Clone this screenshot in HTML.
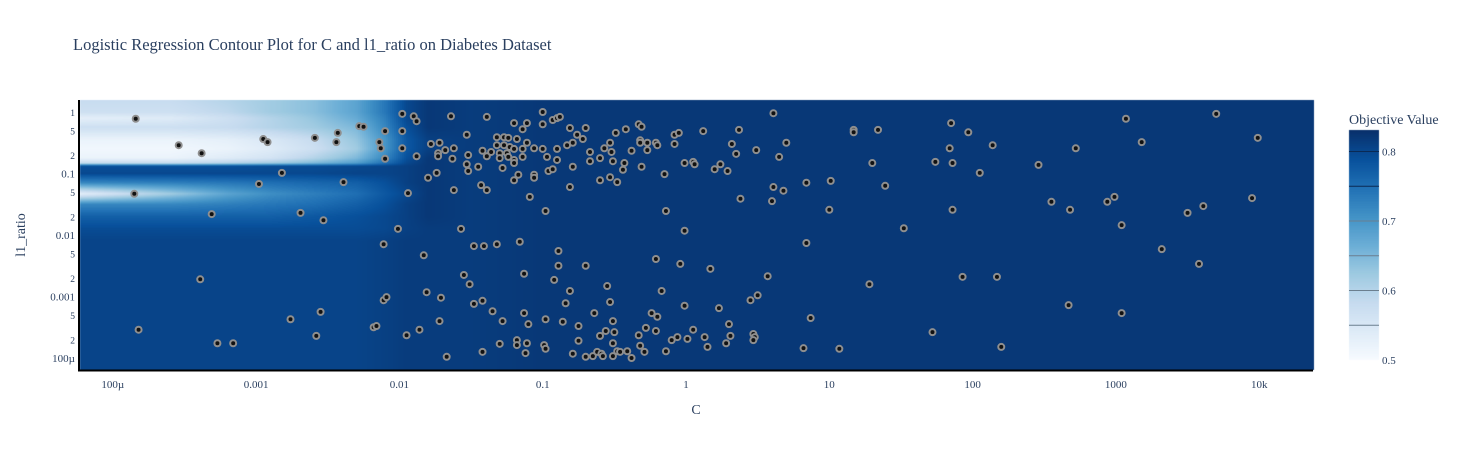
<!DOCTYPE html>
<html><head><meta charset="utf-8"><style>
body{margin:0;background:#fff;width:1459px;height:450px;overflow:hidden;font-family:"Liberation Serif",serif;}
#wrap{position:relative;width:1459px;height:450px;}
canvas{position:absolute;left:0;top:0;}
svg{position:absolute;left:0;top:0;}
</style></head><body>
<div id="wrap">
<canvas id="cv" width="1459" height="450"></canvas>
<svg id="sv" width="1459" height="450" xmlns="http://www.w3.org/2000/svg">
<text x="73" y="50" font-size="16.5" fill="#2a3f5f">Logistic Regression Contour Plot for C and l1_ratio on Diabetes Dataset</text>
<text x="696" y="414" font-size="14" fill="#2a3f5f" text-anchor="middle">C</text>
<text transform="translate(25,235) rotate(-90)" font-size="14" fill="#2a3f5f" text-anchor="middle">l1_ratio</text>
<text x="1349" y="124" font-size="14" fill="#2a3f5f">Objective Value</text>
<g id="xt"></g><g id="yt"></g><g id="cb"></g><g id="pts"></g>
<line x1="79" y1="100" x2="79" y2="371" stroke="#000" stroke-width="2"/>
<line x1="78" y1="370.5" x2="1313" y2="370.5" stroke="#000" stroke-width="2"/>
</svg>
</div>
<script>
// axis ticks (log10 exponents) and labels
const xTickExp=[-4,-3,-2,-1,0,1,2,3,4];
const xTickLabels=["100µ","0.001","0.01","0.1","1","10","100","1000","10k"];
const yTickVals=[1,0.5,0.2,0.1,0.05,0.02,0.01,0.005,0.002,0.001,0.0005,0.0002,0.0001];
const yTickLabels=["1","5","2","0.1","5","2","0.01","5","2","0.001","5","2","100µ"];
const cbTicks=[0.5,0.6,0.7,0.8];
const cbLevels=[0.55,0.6,0.65,0.7,0.75,0.8];
// objective surface grid (log10 C columns, log10 l1_ratio rows)
const gridLogC=[-4.25,-3.6,-3.2,-2.9,-2.6,-2.3,-2.1,-1.95,-1.8,-1.5,-1.0,4.4];
const gridLogL1=[0.2,0.0,-0.1,-0.25,-0.45,-0.6,-0.75,-0.83,-0.88,-1.0,-1.15,-1.33,-1.5,-1.7,-1.9,-2.1,-4.3];
const gridZ=[
[0.58,0.58,0.60,0.62,0.64,0.68,0.74,0.80,0.82,0.815,0.82,0.82],
[0.57,0.57,0.59,0.62,0.64,0.68,0.74,0.80,0.82,0.815,0.82,0.82],
[0.53,0.54,0.57,0.60,0.63,0.67,0.73,0.80,0.82,0.815,0.82,0.82],
[0.57,0.57,0.58,0.60,0.62,0.65,0.72,0.79,0.82,0.815,0.82,0.82],
[0.52,0.52,0.53,0.55,0.58,0.63,0.70,0.78,0.81,0.815,0.82,0.82],
[0.51,0.51,0.52,0.54,0.57,0.62,0.70,0.78,0.81,0.815,0.82,0.82],
[0.52,0.52,0.54,0.56,0.60,0.65,0.72,0.79,0.82,0.815,0.82,0.82],
[0.58,0.58,0.60,0.62,0.65,0.69,0.75,0.80,0.82,0.815,0.82,0.82],
[0.79,0.79,0.79,0.795,0.795,0.80,0.805,0.81,0.82,0.815,0.82,0.82],
[0.80,0.80,0.80,0.80,0.80,0.805,0.805,0.81,0.82,0.815,0.82,0.82],
[0.72,0.73,0.74,0.75,0.76,0.77,0.79,0.81,0.82,0.815,0.82,0.82],
[0.53,0.62,0.68,0.71,0.73,0.75,0.78,0.80,0.82,0.815,0.82,0.82],
[0.72,0.72,0.73,0.74,0.75,0.77,0.79,0.81,0.82,0.815,0.82,0.82],
[0.77,0.77,0.77,0.77,0.78,0.79,0.80,0.81,0.82,0.815,0.82,0.82],
[0.795,0.795,0.795,0.795,0.795,0.795,0.80,0.81,0.815,0.815,0.82,0.82],
[0.805,0.805,0.805,0.805,0.805,0.805,0.81,0.815,0.815,0.815,0.82,0.82],
[0.805,0.805,0.805,0.805,0.805,0.805,0.81,0.815,0.815,0.815,0.82,0.82]];
// trials: [log10 C, log10 l1_ratio]
const trials=[
[-3.84,-0.11],[-3.54,-0.54],[-3.38,-0.67],[-3.85,-1.33],[-2.95,-0.44],[-2.92,-0.49],[-2.59,-0.42],[-2.44,-0.49],[-2.43,-0.34],[-2.28,-0.23],[-2.25,-0.24],[-2.10,-0.31],[-1.98,-0.31],[-2.10,-0.76],[-2.13,-0.59],[-2.14,-0.49],[-1.98,-0.59],[-2.82,-0.99],[-2.98,-1.17],[-2.39,-1.14],[-3.31,-1.66],[-2.69,-1.64],[-2.53,-1.76],[-2.01,-1.90],[-2.11,-2.15],[-3.39,-2.72],[-3.82,-3.54],[-3.27,-3.76],[-3.16,-3.76],[-2.76,-3.37],[-2.55,-3.25],[-2.58,-3.64],[-2.18,-3.50],[-2.16,-3.48],[-2.11,-3.06],[-2.09,-3.01],
[-1.98,-0.03],[-1.90,-0.07],[-1.88,-0.15],[-1.64,-0.07],[-1.39,-0.08],[-1.00,0],[-1.20,-0.18],[-1.11,-0.18],[-1.14,-0.28],[-1.00,-0.20],[-0.93,-0.13],[-0.90,-0.10],[-0.88,-0.08],[-0.81,-0.26],[-0.70,-0.26],[-1.53,-0.37],[-1.78,-0.52],[-1.72,-0.50],[-1.68,-0.62],[-1.73,-0.67],[-1.73,-0.72],[-1.62,-0.59],[-1.88,-0.72],[-1.63,-0.76],[-1.52,-0.70],[-1.53,-0.85],[-1.52,-0.96],[-1.45,-0.89],[-1.80,-1.07],[-1.74,-0.99],[-1.62,-1.27],[-1.94,-1.32],[-1.43,-1.19],[-1.39,-1.27],
[-1.32,-0.41],[-1.27,-0.41],[-1.24,-0.42],[-1.18,-0.44],[-1.32,-0.54],[-1.27,-0.54],[-1.23,-0.57],[-1.42,-0.63],[-1.36,-0.65],[-1.30,-0.67],[-1.25,-0.67],[-1.20,-0.60],[-1.14,-0.60],[-1.39,-0.72],[-1.30,-0.75],[-1.24,-0.73],[-1.20,-0.78],[-1.14,-0.73],[-1.11,-0.50],[-1.06,-0.59],[-1.00,-0.60],[-0.97,-0.73],[-0.90,-0.60],[-0.90,-0.78],[-1.20,-0.83],[-1.28,-0.91],[-1.17,-1.02],[-1.20,-1.11],[-1.06,-1.02],[-1.06,-1.07],[-0.96,-0.96],[-0.93,-0.93],[-0.79,-0.89],[-0.83,-0.54],[-0.79,-0.50],[-0.76,-0.37],[-0.72,-0.44],[-0.67,-0.65],[-0.67,-0.80],[-0.60,-0.75],[-0.57,-0.59],[-0.53,-0.50],[-0.52,-0.65],[-0.49,-0.34],[-0.42,-0.28],[-0.51,-0.80],[-0.43,-0.83],[-0.44,-0.94],[-0.60,-1.11],[-0.53,-1.06],[-0.48,-1.14],[-0.81,-1.22],[-0.38,-0.63],[-0.33,-0.20],[-0.31,-0.24],[-0.32,-0.46],[-0.32,-0.50],[-0.27,-0.50],[-0.27,-0.62],[-0.21,-0.50],[-0.20,-0.54],[-0.31,-0.89],[-0.15,-1.01],[-0.08,-0.52],[-0.08,-0.37],[-0.05,-0.34],[0.12,-0.31],[-0.01,-0.83],[0.05,-0.81],[0.06,-0.85],[0.20,-0.93],[0.24,-0.85],[0.29,-0.96],[0.32,-0.52],[0.35,-0.68],[0.37,-0.29],[0.49,-0.62],[0.61,-0.02],[0.65,-0.73],[0.70,-0.50],[0.61,-1.22],[0.68,-1.28],[0.60,-1.45],[0.38,-1.41],[-0.98,-1.61],[-1.09,-1.38],[-0.14,-1.61],[-0.01,-1.93],[-1.57,-1.90],
[-1.83,-2.33],[-1.48,-2.18],[-1.41,-2.18],[-1.32,-2.15],[-1.16,-2.11],[-0.89,-2.26],[-0.89,-2.50],[-0.70,-2.50],[-0.21,-2.39],[-0.04,-2.47],[0.17,-2.55],[0.57,-2.67],[-1.55,-2.65],[-1.51,-2.80],[-1.13,-2.63],[-0.92,-2.73],[-0.81,-2.91],[-0.84,-3.11],[-0.55,-2.83],[-0.53,-3.09],[-0.17,-2.91],[-0.01,-3.15],[0.23,-3.19],[0.50,-2.98],[-1.81,-2.93],[-1.71,-3.02],[-1.48,-3.12],[-1.42,-3.07],[-1.35,-3.24],[-1.28,-3.40],[-1.13,-3.27],[-1.10,-3.45],[-0.98,-3.37],[-0.86,-3.41],[-0.75,-3.48],[-0.75,-3.72],[-0.64,-3.27],[-0.51,-3.40],[-0.56,-3.56],[-0.50,-3.58],[-0.60,-3.64],[-0.51,-3.76],[-0.33,-3.63],[-0.28,-3.51],[-0.24,-3.27],[-0.20,-3.33],[-0.21,-3.56],[-0.32,-3.80],[-0.29,-3.90],[-0.14,-3.89],[-0.10,-3.71],[-0.06,-3.66],[0.01,-3.69],[0.05,-3.54],[0.13,-3.66],[0.15,-3.82],[0.30,-3.45],[0.31,-3.64],[0.28,-3.76],[0.47,-3.61],[0.48,-3.66],[-1.95,-3.63],[-1.86,-3.54],[-1.72,-3.40],[-1.67,-3.98],[-1.42,-3.90],[-1.30,-3.77],[-1.18,-3.71],[-1.18,-3.79],[-1.11,-3.76],[-1.12,-3.92],[-0.99,-3.79],[-0.98,-3.85],[-0.79,-3.93],[-0.70,-3.98],[-0.65,-3.97],[-0.62,-3.90],[-0.59,-3.93],[-0.58,-3.97],[-0.51,-3.97],[-0.48,-3.89],[-0.46,-3.90],[-0.41,-3.89],[-0.38,-4.00],
[1.01,-1.12],[1.00,-1.59],[1.17,-0.29],[1.17,-0.33],[1.34,-0.29],[1.30,-0.83],[1.39,-1.20],[1.28,-2.80],[1.07,-3.85],[0.82,-3.84],[0.87,-3.35],[0.84,-2.13],[0.84,-1.15],[0.45,-3.06],[0.47,-3.71],[1.52,-1.89],[1.74,-0.81],[1.85,-0.18],[1.84,-0.59],[1.86,-0.83],[1.97,-0.33],[2.05,-0.99],[1.86,-1.59],[1.93,-2.68],[1.72,-3.58],[2.14,-0.54],[2.17,-2.68],[2.20,-3.82],[2.46,-0.86],[2.55,-1.46],[2.68,-1.59],[2.67,-3.14],[2.72,-0.59],[2.94,-1.46],[2.99,-1.38],[3.04,-1.84],[3.04,-3.27],[3.07,-0.11],[3.18,-0.49],[3.32,-2.23],[3.50,-1.64],[3.58,-2.47],[3.61,-1.53],[3.70,-0.03],[3.95,-1.40],[3.99,-0.42]];

const PL=80,PR=1313,PT=100,PB=370;
function xs(lc){return 686+143.3*lc;}
function ys(ll){return 112-61.5*ll;}
function cbY(v){return 360-(v-0.5)*695;}
const blues=[[247,251,255],[222,235,247],[198,219,239],[158,202,225],[107,174,214],[66,146,198],[33,113,181],[8,81,156],[8,48,107]];
function col(z){let t=Math.max(0,Math.min(1,(z-0.5)/0.33))*(blues.length-1);let i=Math.min(blues.length-2,Math.floor(t)),f=t-i;
return blues[i].map((c,k)=>Math.round(c+(blues[i+1][k]-c)*f));}
function interp(arr,v){
 for(let i=0;i<arr.length-1;i++){const a=arr[i],b=arr[i+1];if((v-a)*(v-b)<=0){return [i,(v-a)/(b-a)];}}
 return v<Math.min(arr[0],arr[arr.length-1])?(arr[0]<arr[1]?[0,0]:[arr.length-2,1]):(arr[0]<arr[1]?[arr.length-2,1]:[0,0]);}
function zAt(lc,ll){const [i,fx]=interp(gridLogC,lc);const [j,fy]=interp(gridLogL1,ll);
 const a=gridZ[j][i],b=gridZ[j][i+1],c=gridZ[j+1][i],d=gridZ[j+1][i+1];
 return (a*(1-fx)+b*fx)*(1-fy)+(c*(1-fx)+d*fx)*fy;}
const ctx=document.getElementById('cv').getContext('2d');
for(let x=PL;x<PR;x+=2){for(let y=PT;y<PB;y+=1){const z=zAt((x+1-686)/143.3,(112-(y+0.5))/61.5);const c=col(z);ctx.fillStyle=`rgb(${c[0]},${c[1]},${c[2]})`;ctx.fillRect(x,y,2,1);}}
// colorbar
for(let y=130;y<360;y++){const c=col(0.5+(360-y-0.5)/695);ctx.fillStyle=`rgb(${c[0]},${c[1]},${c[2]})`;ctx.fillRect(1349,y,30,1);}
const NS='http://www.w3.org/2000/svg';
function mk(tag,attrs,parent){const e=document.createElementNS(NS,tag);for(const k in attrs)e.setAttribute(k,attrs[k]);parent.appendChild(e);return e;}
const xt=document.getElementById('xt'),yt=document.getElementById('yt'),cb=document.getElementById('cb'),pts=document.getElementById('pts');
xTickExp.forEach((e,i)=>{const t=mk('text',{x:xs(e),y:388,'font-size':11,fill:'#2a3f5f','text-anchor':'middle'},xt);t.textContent=xTickLabels[i];

});
yTickVals.forEach((v,i)=>{const t=mk('text',{x:75,y:ys(Math.log10(v))+4,'font-size':yTickLabels[i].length>1?11:9.5,fill:'#2a3f5f','text-anchor':'end'},yt);t.textContent=yTickLabels[i];

});
cbLevels.forEach(v=>{const l=mk('line',{x1:1349,x2:1379,y1:cbY(v),y2:cbY(v),stroke:v>0.72?'#0a2a55':'#6b7f8f','stroke-width':1},cb);

});
cbTicks.forEach(v=>{const t=mk('text',{x:1382,y:cbY(v)+4,'font-size':11,fill:'#2a3f5f'},cb);t.textContent=v.toFixed(1);

});
trials.forEach(p=>{const c=mk('circle',{cx:xs(p[0]),cy:ys(p[1]),r:3,fill:'#111',stroke:'#8f8f8f','stroke-width':2},pts);

});
</script>
</body></html>
